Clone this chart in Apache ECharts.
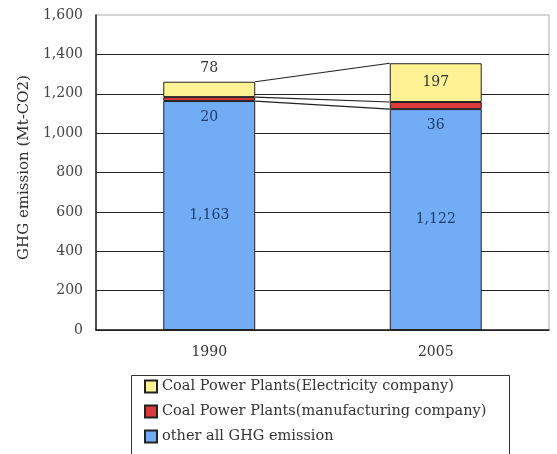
<!DOCTYPE html>
<html>
<head>
<meta charset="utf-8">
<script src="https://cdn.jsdelivr.net/npm/echarts@6/dist/echarts.min.js"></script>
<style>
  html, body { margin: 0; padding: 0; background: #fff; }
  #main { width: 557px; height: 454px; }
</style>
</head>
<body>
<div id="main"></div>
<script>
var years = ['1990', '2005'];
var otherGhg = [1163, 1122];
var coalManufacturing = [20, 36];
var coalElectricity = [78, 197];
var yTicks = [0, 200, 400, 600, 800, 1000, 1200, 1400, 1600];

var names = {
    elec: 'Coal Power Plants(Electricity company)',
    manu: 'Coal Power Plants(manufacturing company)',
    other: 'other all GHG emission'
};

var fontName = 'DejaVu Serif';
var barPct = 0.406;

function fmt(v) {
    return String(v).replace(/\B(?=(\d{3})+(?!\d))/g, ',');
}

// tops of each stacked segment, used for the connecting lines
var tops = [];
[otherGhg, coalManufacturing, coalElectricity].reduce(function (acc, arr) {
    var next = acc.map(function (a, i) { return a + arr[i]; });
    tops.push(next);
    return next;
}, [0, 0]);
var linkData = tops.map(function (t) { return [t[0], t[1]]; });

var myChart = echarts.init(document.getElementById('main'));

var option = {
    animation: false,
    grid: {
        left: 96,
        right: 8,
        top: 15,
        bottom: 124,
        show: true,
        borderColor: '#aaa',
        borderWidth: 1
    },
    legend: {
        orient: 'vertical',
        left: 139,
        top: 374,
        itemWidth: 12,
        itemHeight: 12,
        itemGap: 10,
        icon: 'rect',
        data: [names.elec, names.manu, names.other],
        textStyle: {
            fontFamily: fontName,
            fontSize: 14.5,
            color: '#333'
        }
    },
    graphic: [{
        type: 'rect',
        left: 129,
        top: 373,
        shape: { width: 378, height: 100 },
        style: { fill: 'none', stroke: '#333', lineWidth: 1 },
        z: -1
    }],
    xAxis: {
        type: 'category',
        data: years,
        axisLine: { lineStyle: { color: '#222', width: 1.5 } },
        axisTick: { show: false },
        axisLabel: {
            fontFamily: fontName,
            fontSize: 14,
            color: '#333',
            margin: 15
        }
    },
    yAxis: {
        type: 'value',
        min: yTicks[0],
        max: yTicks[yTicks.length - 1],
        interval: 200,
        name: 'GHG emission (Mt-CO2)',
        nameLocation: 'middle',
        nameGap: 63,
        nameTextStyle: {
            fontFamily: fontName,
            fontSize: 15,
            color: '#333',
            padding: [0, 0, 0, 10]
        },
        axisLine: { show: true, lineStyle: { color: '#222', width: 1.5 } },
        axisTick: { show: false },
        axisLabel: {
            fontFamily: fontName,
            fontSize: 14,
            color: '#444',
            margin: 13,
            formatter: fmt
        },
        splitLine: {
            showMaxLine: false,
            lineStyle: { color: '#222', width: 1.2 }
        }
    },
    series: [{
        name: names.other,
        type: 'bar',
        stack: 'ghg',
        barWidth: (barPct * 100) + '%',
        data: otherGhg,
        itemStyle: { color: '#72acf4', borderColor: '#222', borderWidth: 1 },
        label: {
            show: true,
            position: 'inside',
            fontFamily: fontName,
            fontSize: 14,
            color: '#1d3d6e',
            formatter: function (p) { return fmt(p.value); }
        }
    }, {
        name: names.manu,
        type: 'bar',
        stack: 'ghg',
        data: coalManufacturing,
        itemStyle: { color: '#dc3a3a', borderColor: '#222', borderWidth: 1 },
        label: {
            show: true,
            position: 'bottom',
            distance: 9,
            fontFamily: fontName,
            fontSize: 14,
            color: '#1d3d6e'
        }
    }, {
        name: names.elec,
        type: 'bar',
        stack: 'ghg',
        data: coalElectricity.map(function (v, i) {
            // the thin 1990 segment has its label above the bar
            return i === 0 ? { value: v, label: { position: 'top', distance: 6 } } : v;
        }),
        itemStyle: { color: '#fdf294', borderColor: '#222', borderWidth: 1 },
        label: {
            show: true,
            position: 'inside',
            fontFamily: fontName,
            fontSize: 14,
            color: '#333'
        }
    }, {
        type: 'custom',
        silent: true,
        z: 5,
        data: linkData,
        renderItem: function (params, api) {
            var p1 = api.coord([0, api.value(0)]);
            var p2 = api.coord([1, api.value(1)]);
            var half = api.size([1, 0])[0] * barPct / 2;
            return {
                type: 'line',
                shape: { x1: p1[0] + half, y1: p1[1], x2: p2[0] - half, y2: p2[1] },
                style: { stroke: '#222', lineWidth: 1.2 }
            };
        }
    }]
};

myChart.setOption(option);
</script>
</body>
</html>
